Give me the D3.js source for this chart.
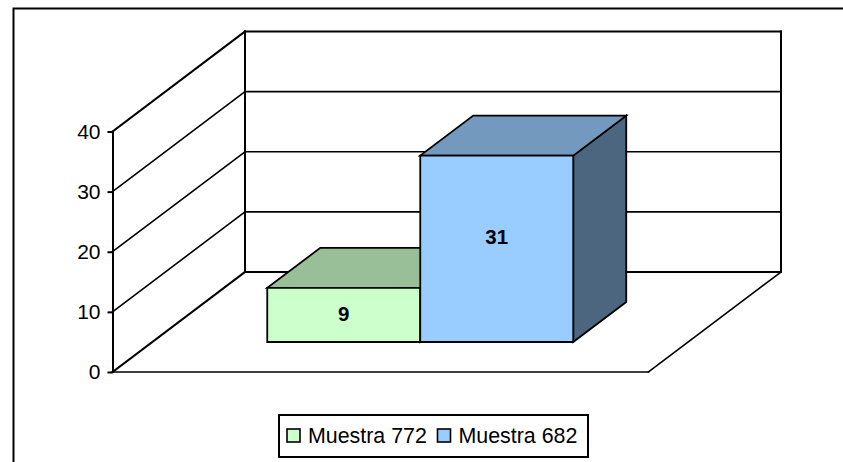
<!DOCTYPE html>
<html>
<head>
<meta charset="utf-8">
<script src="https://cdn.jsdelivr.net/npm/d3@7"></script>
<style>
	html, body { margin: 0; padding: 0; background: #fff; overflow: hidden; }
	svg { display: block; font-family: "Liberation Sans", Arial, sans-serif; }
</style>
</head>
<body>
<div id="chart"></div>
<script>
const seriesNames = ['Muestra 772', 'Muestra 682'];
const seriesValues = [9, 31];
const yTicks = [0, 10, 20, 30, 40];
const frontColors = ['#CCFFCC', '#99CCFF'];
const topColors = ['#99BF99', '#7399BF'];
const sideColors = ['#739973', '#4D6680'];

const w = 843, h = 462;
const depthX = 132.5, depthY = 100; // shift of the back wall from the front edge
const barZ = [0.3, 0.7]; // bar depth, as share of the floor depth

const svg = d3.select('#chart').append('svg').attr('width', w).attr('height', h);

const scaleY = d3.scaleLinear().domain([0, 40]).range([372, 131.5]);
const scaleX = d3.scaleBand().domain(seriesNames).range([112, 649]).paddingInner(0).paddingOuter(0.755);

// 3D position: px is the x on the front edge, v the value, z the depth from 0 to 1
function project(px, v, z){
	return [px + z*depthX, scaleY(v) - z*depthY];
}
function poly(points){
	return 'M' + points.map(function(p){ return p.join(','); }).join('L') + 'Z';
}
function line(p1, p2, width){
	svg.append('line')
		.attr('x1', p1[0]).attr('y1', p1[1])
		.attr('x2', p2[0]).attr('y2', p2[1])
		.attr('stroke', '#000')
		.attr('stroke-width', width)
		.attr('stroke-linecap', 'square');
}

// chart frame, only top and left fall inside the picture
svg.append('path')
	.attr('d', 'M13.5,' + h + 'V8.5H' + w)
	.attr('fill', 'none')
	.attr('stroke', '#000')
	.attr('stroke-width', 2);

const x0 = 112.5, x1 = 648.5;

// gridlines on the side wall and back wall
yTicks.forEach(function(t){
	let sw = t === 0 || t === 40 ? 2 : 1.6;
	line(project(x0, t, 0), project(x0, t, 1), sw);
	line(project(x0, t, 1), project(x1, t, 1), sw);
});
line(project(x0, 0, 1), project(x0, 40, 1), 2);
line(project(x1, 0, 1), project(x1, 40, 1), 2);

// floor
line(project(x0, 0, 0), project(x1, 0, 0), 1.6);
line(project(x1, 0, 0), project(x1, 0, 1), 1.6);

// value axis
const axisG = svg.append('g')
	.attr('transform', 'translate(' + x0 + ',0)')
	.call(d3.axisLeft(scaleY).tickValues(yTicks).tickSize(5).tickPadding(7).tickSizeOuter(0));
axisG.select('.domain').attr('stroke', '#000').attr('stroke-width', 2);
axisG.selectAll('.tick line').attr('stroke', '#000').attr('stroke-width', 2);
axisG.selectAll('.tick text')
	.attr('fill', '#000')
	.style('font-family', '"Liberation Sans", Arial, sans-serif')
	.style('font-size', '21px');

// bars
seriesNames.forEach(function(name, i){
	let left = scaleX(name),
		right = left + scaleX.bandwidth(),
		val = seriesValues[i],
		zF = barZ[0],
		zB = barZ[1],
		g = svg.append('g')
			.attr('stroke', '#000')
			.attr('stroke-width', 1.8)
			.attr('stroke-linejoin', 'miter');

	g.append('path')
		.attr('d', poly([project(right, 0, zF), project(right, 0, zB), project(right, val, zB), project(right, val, zF)]))
		.attr('fill', sideColors[i]);
	g.append('path')
		.attr('d', poly([project(left, val, zF), project(right, val, zF), project(right, val, zB), project(left, val, zB)]))
		.attr('fill', topColors[i]);
	g.append('path')
		.attr('d', poly([project(left, 0, zF), project(right, 0, zF), project(right, val, zF), project(left, val, zF)]))
		.attr('fill', frontColors[i]);

	// the label sits a bit above the middle of the front face
	let c = project((left + right)/2, val*0.58, zF);
	svg.append('text')
		.attr('x', c[0])
		.attr('y', c[1] + 2.5)
		.attr('text-anchor', 'middle')
		.attr('dominant-baseline', 'central')
		.style('font-size', '20.5px')
		.style('font-weight', 'bold')
		.text(val);
});

// legend
const legendG = svg.append('g');
legendG.append('rect')
	.attr('x', 279).attr('y', 415)
	.attr('width', 309).attr('height', 42)
	.attr('fill', '#fff')
	.attr('stroke', '#000')
	.attr('stroke-width', 2);
const legendX = [287, 437.5];
seriesNames.forEach(function(name, i){
	legendG.append('rect')
		.attr('x', legendX[i]).attr('y', 429)
		.attr('width', 13).attr('height', 13)
		.attr('fill', frontColors[i])
		.attr('stroke', '#000')
		.attr('stroke-width', 1.6);
	legendG.append('text')
		.attr('x', legendX[i] + 21)
		.attr('y', 436)
		.attr('dominant-baseline', 'central')
		.style('font-size', '21.4px')
		.text(name);
});
</script>
</body>
</html>
